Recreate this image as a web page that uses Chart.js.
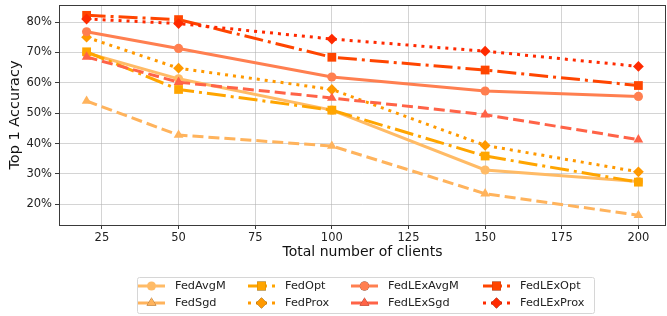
<!DOCTYPE html>
<html>
<head>
<meta charset="utf-8">
<script src="https://cdn.jsdelivr.net/npm/chart.js@4"></script>
<style>
  html, body { margin: 0; padding: 0; background: #fff; }
  #wrap { width: 667px; height: 316px; }
</style>
</head>
<body>
<div id="wrap"><canvas id="c" width="667" height="316"></canvas></div>
<script>
/* ── data ───────────────────────────────────────────── */
const CLIENTS = [20, 50, 100, 150, 200];
const X_TICKS = [25, 50, 75, 100, 125, 150, 175, 200];
const Y_TICKS = [20, 30, 40, 50, 60, 70, 80];

const FED_AVGM     = [69.8, 61.3, 51.0, 31.3, 27.5];
const FED_SGD      = [54.0, 42.8, 39.2, 23.5, 16.4];
const FED_OPT      = [70.2, 57.8, 51.0, 35.9, 27.3];
const FED_PROX     = [75.0, 64.8, 57.8, 39.4, 30.7];
const FEDLEX_AVGM  = [76.8, 71.3, 61.9, 57.3, 55.5];
const FEDLEX_SGD   = [68.5, 60.2, 55.0, 49.5, 41.3];
const FEDLEX_OPT   = [82.2, 80.8, 68.4, 64.2, 59.1];
const FEDLEX_PROX  = [81.0, 79.5, 74.4, 70.4, 65.4];

/* ── styles ─────────────────────────────────────────── */
const SOLID = [], DASHED = [11, 5], DASHDOT = [19, 5, 3, 5], DOTTED = [3, 5];
const MARK = {
  circle:   { style: "circle",   r: 4.6 },
  triangle: { style: "triangle", r: 5.6 },
  square:   { style: "rect",     r: 6.2 },
  diamond:  { style: "rectRot",  r: 5.4 },
};

const SERIES = [
  { label: "FedAvgM",    data: FED_AVGM,    color: "#ffbb66", dash: SOLID,   mark: MARK.circle   },
  { label: "FedSgd",     data: FED_SGD,     color: "#ffb35c", dash: DASHED,  mark: MARK.triangle },
  { label: "FedOpt",     data: FED_OPT,     color: "#ffa500", dash: DASHDOT, mark: MARK.square   },
  { label: "FedProx",    data: FED_PROX,    color: "#ff9900", dash: DOTTED,  mark: MARK.diamond  },
  { label: "FedLExAvgM", data: FEDLEX_AVGM, color: "#ff7f50", dash: SOLID,   mark: MARK.circle   },
  { label: "FedLExSgd",  data: FEDLEX_SGD,  color: "#ff6347", dash: DASHED,  mark: MARK.triangle },
  { label: "FedLExOpt",  data: FEDLEX_OPT,  color: "#ff4500", dash: DASHDOT, mark: MARK.square   },
  { label: "FedLExProx", data: FEDLEX_PROX, color: "#ff2a00", dash: DOTTED,  mark: MARK.diamond  },
];

const FONT = "'DejaVu Sans', sans-serif";

/* frame around the plot area */
const framePlugin = {
  id: "frame",
  afterDraw(chart) {
    const { ctx, chartArea: a } = chart;
    ctx.save();
    ctx.strokeStyle = "#3a3a3a";
    ctx.lineWidth = 1;
    ctx.strokeRect(Math.round(a.left) + 0.5, Math.round(a.top) + 0.5,
                   Math.round(a.right - a.left) - 1, Math.round(a.bottom - a.top));
    ctx.restore();
  },
};

/* legend, 4 columns x 2 rows, column-major like matplotlib */
const legendPlugin = {
  id: "mplLegend",
  afterDraw(chart) {
    const { ctx } = chart;
    const box = { x: 137.5, y: 277.5, w: 457, h: 36 };
    const colText = [175, 285, 388, 520];
    const rowY = [286, 303];
    ctx.save();
    ctx.fillStyle = "rgba(255,255,255,0.9)";
    ctx.strokeStyle = "#d6d6d6";
    ctx.lineWidth = 1;
    ctx.beginPath();
    ctx.roundRect(box.x, box.y, box.w, box.h, 2);
    ctx.fill();
    ctx.stroke();
    SERIES.forEach((s, i) => {
      const col = Math.floor(i / 2), row = i % 2;
      const tx = colText[col], y = rowY[row];
      const x0 = tx - 37, x1 = tx - 10;
      ctx.strokeStyle = s.color;
      ctx.lineWidth = 3;
      ctx.setLineDash(s.dash);
      ctx.beginPath();
      ctx.moveTo(x0, y);
      ctx.lineTo(x1, y);
      ctx.stroke();
      ctx.setLineDash([]);
      Chart.helpers.drawPoint(ctx, { pointStyle: s.mark.style, radius: s.mark.r, borderWidth: 0 },
                              (x0 + x1) / 2, y);
      ctx.fillStyle = s.color;
      ctx.fill();
      ctx.fillStyle = "#222";
      ctx.font = "11.3px " + FONT;
      ctx.textBaseline = "middle";
      ctx.textAlign = "left";
      ctx.fillText(s.label, tx, y + 0.5);
    });
    ctx.restore();
  },
};

const N = SERIES.length;
new Chart(document.getElementById("c"), {
  type: "line",
  data: {
    datasets: SERIES.map((s, i) => ({
      label: s.label,
      data: CLIENTS.map((c, k) => ({ x: c, y: s.data[k] })),
      borderColor: s.color,
      backgroundColor: s.color,
      borderWidth: 3,
      borderDash: s.dash,
      pointStyle: s.mark.style,
      pointRadius: s.mark.r,
      pointBorderWidth: 0,
      pointBackgroundColor: s.color,
      tension: 0,
      fill: false,
      order: N - 1 - i,
    })),
  },
  options: {
    responsive: false,
    animation: false,
    layout: { autoPadding: false, padding: { top: 5, right: 1, bottom: 55, left: 0 } },
    plugins: { legend: { display: false }, tooltip: { enabled: false } },
    scales: {
      x: {
        type: "linear",
        min: 11,
        max: 209,
        afterBuildTicks: (sc) => { sc.ticks = X_TICKS.map((v) => ({ value: v })); },
        afterFit: (sc) => { sc.height = 36; sc.paddingLeft = 0; sc.paddingRight = 0; },
        grid: { color: "rgba(176,176,176,0.55)", lineWidth: 1, tickColor: "#3a3a3a", tickLength: 4 },
        border: { display: false },
        ticks: { color: "#222", font: { family: FONT, size: 11.5 }, padding: 2, maxRotation: 0 },
        title: { display: true, text: "Total number of clients", color: "#111",
                 font: { family: FONT, size: 14 }, padding: { top: 0, bottom: 0.6 } },
      },
      y: {
        min: 13.2,
        max: 85.6,
        afterBuildTicks: (sc) => { sc.ticks = Y_TICKS.map((v) => ({ value: v })); },
        afterFit: (sc) => { sc.width = 59; sc.paddingTop = 0; sc.paddingBottom = 0; },
        grid: { color: "rgba(176,176,176,0.55)", lineWidth: 1, tickColor: "#3a3a3a", tickLength: 4 },
        border: { display: false },
        ticks: { color: "#222", font: { family: FONT, size: 11.5 }, padding: 3,
                 callback: (v) => v + "%" },
        title: { display: true, text: "Top 1 Accuracy", color: "#111",
                 font: { family: FONT, size: 14.5 }, padding: { top: 6.3, bottom: 0 } },
      },
    },
  },
  plugins: [framePlugin, legendPlugin],
});
</script>
</body>
</html>
